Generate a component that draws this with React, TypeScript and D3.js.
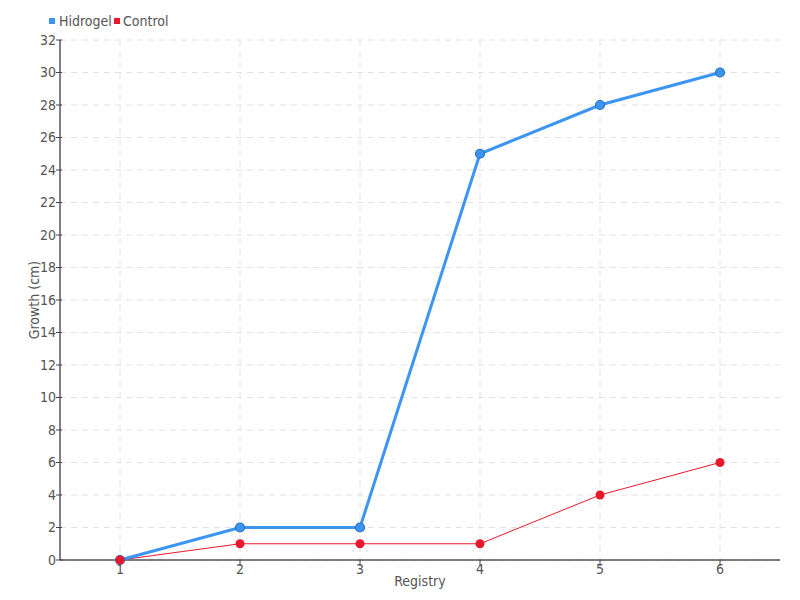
import React from "react";
import * as d3 from "d3";

const registry = [1, 2, 3, 4, 5, 6];
const hidrogel = [0, 2, 2, 25, 28, 30];
const control = [0, 1, 1, 1, 4, 6];
const yTicks = d3.range(0, 33, 2);

const W = 800, H = 600;
const L = 60, R = 780, T = 40, B = 560;
const FONT = "'Liberation Sans Narrow', 'DejaVu Sans Condensed', 'Roboto', sans-serif";

export default function App() {
  const x = d3.scaleLinear().domain([0.5, 6.5]).range([L, R]);
  const y = d3.scaleLinear().domain([0, 32]).range([B, T]);
  const line = d3.line<number>().x((_, i) => x(registry[i])).y((d) => y(d));
  const blue = "#3d95f2";
  const blueDark = "#2a6fc0";
  const red = "#e8192c";
  return (
    <svg width={W} height={H} style={{ position: "absolute", left: 0, top: 0, fontFamily: FONT }}>
      <rect width={W} height={H} fill="#fff" />
      {yTicks.map((t) => (
        <line key={"gy" + t} x1={L} x2={R} y1={y(t)} y2={y(t)} stroke="#e2e2e2" strokeDasharray="6,5" />
      ))}
      {registry.map((r) => (
        <line key={"gx" + r} x1={x(r)} x2={x(r)} y1={T} y2={B} stroke="#e2e2e2" strokeDasharray="6,5" />
      ))}
      <line x1={L} x2={L} y1={T} y2={B} stroke="#000" />
      <line x1={L} x2={R} y1={B} y2={B} stroke="#000" />
      {yTicks.map((t) => (
        <g key={"ty" + t}>
          <line x1={L - 4} x2={L + 2} y1={y(t)} y2={y(t)} stroke="#444" />
          <text x={L - 4} y={y(t)} dy="0.35em" textAnchor="end" fontSize={14} fill="#555">{t}</text>
        </g>
      ))}
      {registry.map((r) => (
        <g key={"tx" + r}>
          <line x1={x(r)} x2={x(r)} y1={B} y2={B + 6} stroke="#444" />
          <text x={x(r)} y={B + 14} textAnchor="middle" fontSize={14} fill="#555">{r}</text>
        </g>
      ))}
      <text x={(L + R) / 2} y={B + 26} textAnchor="middle" fontSize={14} fill="#555">Registry</text>
      <text transform={`translate(39,${(T + B) / 2}) rotate(-90)`} textAnchor="middle" fontSize={14} fill="#555">Growth (cm)</text>

      <path d={line(control) || ""} fill="none" stroke={red} strokeWidth={1} />
      <path d={line(hidrogel) || ""} fill="none" stroke={blue} strokeWidth={3} />
      {hidrogel.map((v, i) => (
        <circle key={"h" + i} cx={x(registry[i])} cy={y(v)} r={4.5} fill={blue} stroke={blueDark} strokeWidth={1.2} />
      ))}
      {control.map((v, i) => (
        <circle key={"c" + i} cx={x(registry[i])} cy={y(v)} r={4.5} fill={red} />
      ))}

      <rect x={49} y={18} width={6} height={6} fill={blue} />
      <text x={59} y={26} fontSize={14} fill="#555">Hidrogel</text>
      <rect x={114} y={18} width={6} height={6} fill={red} />
      <text x={123} y={26} fontSize={14} fill="#555">Control</text>
    </svg>
  );
}
